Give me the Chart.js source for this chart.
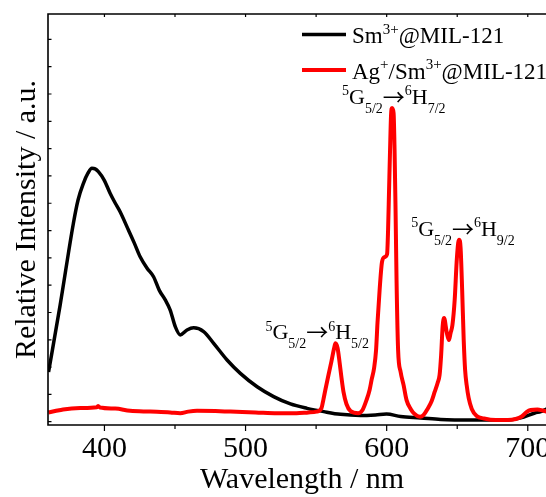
<!DOCTYPE html>
<html>
<head>
<meta charset="utf-8">
<script src="https://cdn.jsdelivr.net/npm/chart.js@4.4.1/dist/chart.umd.min.js"></script>
<style>
  html, body { margin: 0; padding: 0; background: #fff; overflow: hidden; }
  canvas { display: block; }
</style>
</head>
<body>
<canvas id="pl" width="556" height="497"></canvas>
<script>
// Emission spectra, wavelength in nm, intensity in arbitrary units
const smWavelength = [360.4, 368.6, 378.0, 381.3, 385.1, 388.4, 391.1, 393.4, 395.7, 399.8,
  404.0, 407.6, 411.1, 417.0, 421.1, 425.3, 430.1, 434.8, 438.8, 443.1, 446.6, 450.2, 453.7,
  458.5, 463.2, 470.3, 477.4, 486.9, 496.3, 508.2, 519.9, 531.8, 543.6, 555.4, 567.3, 581.5,
  592.1, 599.9, 609.9, 624.1, 638.3, 661.7, 685.8, 697.2, 705.0, 709.2, 713.5]
const smIntensity = [1.82, 4.27, 7.27, 8.12, 8.73, 9.11, 9.28, 9.26, 9.16, 8.85,
  8.37, 8.01, 7.69, 7.02, 6.55, 6.04, 5.63, 5.31, 4.82, 4.46, 4.09, 3.48, 3.18,
  3.36, 3.44, 3.30, 2.87, 2.26, 1.77, 1.28, 0.92, 0.65, 0.49, 0.37, 0.27, 0.23,
  0.25, 0.28, 0.19, 0.14, 0.08, 0.06, 0.06, 0.17, 0.32, 0.37, 0.47]

const agWavelength = [360.3, 365.0, 370.7, 382.8, 394.6, 395.5, 396.9, 407.6, 418.2, 432.4,
  446.6, 453.7, 459.4, 465.6, 478.6, 489.2, 507.0, 522.4, 536.1, 544.6, 550.3,
  553.8, 555.2, 556.6, 558.8, 560.9, 562.7, 563.7, 565.2, 566.6, 568.0, 569.4, 571.5, 574.4,
  579.8, 582.9, 585.7, 587.9, 589.3, 591.1, 592.5, 593.5, 595.0, 596.7, 598.5, 600.3,
  601.0, 601.7, 602.4, 603.1, 603.8, 604.9, 605.6, 606.3, 607.0, 608.1, 609.9, 612.0,
  614.1, 617.0, 619.8, 623.6, 626.2, 629.0, 631.9, 634.0, 636.1, 637.5, 638.6, 639.7,
  640.7, 642.5, 644.1, 645.3, 646.6, 648.2, 649.6, 650.7, 651.4, 652.4, 653.5, 654.6,
  655.6, 656.7, 658.1, 660.3, 663.8, 669.0, 677.3, 685.8, 691.5, 695.7, 699.3, 702.1,
  706.9, 710.6, 713.5]
const agIntensity = [0.34, 0.39, 0.45, 0.50, 0.53, 0.58, 0.52, 0.48, 0.40, 0.37,
  0.34, 0.31, 0.37, 0.40, 0.39, 0.37, 0.34, 0.31, 0.31, 0.34, 0.37,
  0.50, 0.82, 1.18, 1.72, 2.22, 2.68, 2.87, 2.70, 2.19, 1.60, 1.09, 0.65, 0.39,
  0.31, 0.43, 0.79, 1.16, 1.53, 1.97, 2.63, 3.62, 4.82, 5.85, 6.03, 6.14,
  7.02, 8.49, 9.95, 11.23, 11.49, 11.31, 9.95, 7.75, 5.19, 2.63, 1.82, 1.34,
  0.79, 0.47, 0.28, 0.18, 0.25, 0.47, 0.76, 1.09, 1.42, 1.71, 2.44, 3.51,
  3.80, 3.29, 2.99, 3.25, 3.54, 4.46, 5.85, 6.55, 6.66, 6.36, 4.82, 2.99,
  1.89, 1.34, 0.87, 0.47, 0.21, 0.12, 0.06, 0.06, 0.10, 0.19, 0.36, 0.43,
  0.45, 0.41, 0.37]

// ^{..} superscript, _{..} subscript
const seriesLabels = ["Sm^{3+}@MIL-121", "Ag^{+}/Sm^{3+}@MIL-121"]
const transitionLabels = ["^{5}G_{5/2}→^{6}H_{5/2}", "^{5}G_{5/2}→^{6}H_{7/2}", "^{5}G_{5/2}→^{6}H_{9/2}"]
const transitionPeaks = [563.7, 603.8, 651.4]

const xTicks = [400, 450, 500, 550, 600, 650, 700]
const yTicks = [0, 1, 2, 3, 4, 5, 6, 7, 8, 9, 10, 11, 12, 13, 14]

const SERIF = '"Liberation Serif", "Times New Roman", serif'
const ARROW_FONT = '"Noto Sans CJK JP", "DejaVu Sans", sans-serif'
const BLACK = "#000000"
const RED = "#ff0000"

function richParts(str) {
  const parts = []
  const re = /([\^_])\{([^}]*)\}|(→)|([^^_→]+)/g
  let m
  while ((m = re.exec(str))) {
    if (m[1]) parts.push({ text: m[2], shift: m[1] === "^" ? -1 : 1 })
    else if (m[3]) parts.push({ text: m[3], shift: 0, arrow: true })
    else parts.push({ text: m[4], shift: 0 })
  }
  return parts
}

function drawRich(ctx, str, x, y, size) {
  for (const p of richParts(str)) {
    const s = p.shift ? Math.round(size * 0.64) : size
    ctx.font = `${s}px ${p.arrow ? ARROW_FONT : SERIF}`
    ctx.fillText(p.text, x, y + p.shift * size * 0.4 + (p.arrow ? 1 : 0))
    x += ctx.measureText(p.text).width
  }
  return x
}

// box, tick marks, legend and transition labels
const decorations = {
  id: "decorations",
  afterDatasetsDraw(chart) {
    const { ctx, chartArea: a, scales: { x, y } } = chart
    ctx.save()
    ctx.strokeStyle = BLACK
    ctx.lineWidth = 1.6
    ctx.beginPath()
    ctx.moveTo(a.left, a.bottom)
    ctx.lineTo(a.left, a.top)
    ctx.lineTo(a.right, a.top)
    ctx.lineTo(a.right, a.bottom)
    ctx.closePath()
    ctx.stroke()

    ctx.lineWidth = 1.2
    ctx.beginPath()
    x.ticks.forEach((t) => {
      const px = x.getPixelForValue(t.value)
      const major = t.value % 100 === 0
      ctx.moveTo(px, a.bottom)
      ctx.lineTo(px, a.bottom + (major ? 6 : 4))
      ctx.moveTo(px, a.top)
      ctx.lineTo(px, a.top + 3)
    })
    y.ticks.forEach((t) => {
      const py = y.getPixelForValue(t.value)
      ctx.moveTo(a.left, py)
      ctx.lineTo(a.left + 3.5, py)
    })
    ctx.stroke()

    // legend
    ctx.fillStyle = BLACK
    ctx.textBaseline = "alphabetic"
    chart.data.datasets.forEach((ds, i) => {
      const ly = 34.5 + i * 35.5
      ctx.strokeStyle = ds.borderColor
      ctx.lineWidth = ds.borderWidth
      ctx.beginPath()
      ctx.moveTo(302, ly)
      ctx.lineTo(346, ly)
      ctx.stroke()
      drawRich(ctx, seriesLabels[i], 352, ly + 8.5, 23)
    })

    // Sm3+ transitions above the red peaks
    const labelShift = [-70, -50, -48]
    transitionLabels.forEach((label, i) => {
      const k = agWavelength.indexOf(transitionPeaks[i])
      const px = x.getPixelForValue(agWavelength[k])
      const py = y.getPixelForValue(agIntensity[k])
      drawRich(ctx, label, px + labelShift[i], py - 4, 22)
    })
    ctx.restore()
  }
}

const axisFont = { family: SERIF, size: 30 }

new Chart(document.getElementById("pl"), {
  type: "line",
  data: {
    datasets: [
      {
        label: "Sm3+@MIL-121",
        data: smWavelength.map((w, i) => ({ x: w, y: smIntensity[i] })),
        borderColor: BLACK,
        borderWidth: 3.5,
        pointRadius: 0,
        cubicInterpolationMode: "monotone",
        order: 1
      },
      {
        label: "Ag+/Sm3+@MIL-121",
        data: agWavelength.map((w, i) => ({ x: w, y: agIntensity[i] })),
        borderColor: RED,
        borderWidth: 4,
        pointRadius: 0,
        cubicInterpolationMode: "monotone",
        order: 0
      }
    ]
  },
  options: {
    responsive: false,
    animation: false,
    layout: { padding: { top: 14, left: 0, right: 0, bottom: 0 } },
    plugins: { legend: { display: false }, tooltip: { enabled: false } },
    scales: {
      x: {
        type: "linear",
        min: 360,
        max: 720,
        afterFit: (s) => { s.height = 72 },
        afterBuildTicks: (s) => { s.ticks = xTicks.map((v) => ({ value: v })) },
        grid: { display: false },
        border: { display: false },
        ticks: {
          color: BLACK,
          font: axisFont,
          padding: -2,
          maxRotation: 0,
          autoSkip: false,
          callback: (v) => (v % 100 === 0 ? String(v) : "")
        },
        title: { display: true, text: "Wavelength / nm", color: BLACK, font: axisFont, padding: { top: 0, bottom: -1 } }
      },
      y: {
        type: "linear",
        min: -0.12,
        max: 14.93,
        afterFit: (s) => { s.width = 48 },
        afterBuildTicks: (s) => { s.ticks = yTicks.map((v) => ({ value: v })) },
        grid: { display: false },
        border: { display: false },
        ticks: { display: false },
        title: { display: true, text: "Relative Intensity / a.u.", color: BLACK, font: axisFont, padding: { top: 9, bottom: 0 } }
      }
    }
  },
  plugins: [decorations]
})
</script>
</body>
</html>
